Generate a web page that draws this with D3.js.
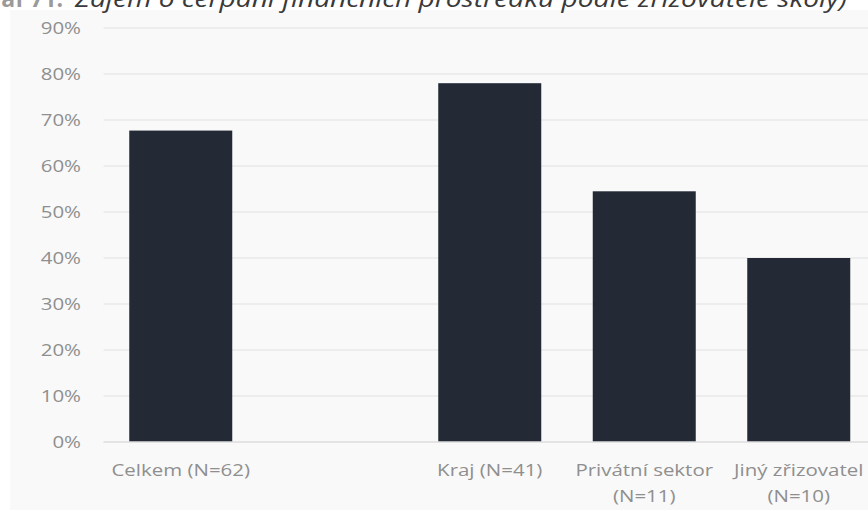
<!DOCTYPE html>
<html><head><meta charset="utf-8">
<script src="https://cdn.jsdelivr.net/npm/d3@7"></script>
<style>
html,body{margin:0;padding:0;background:#ffffff;}
svg{display:block;}
</style></head>
<body>
<svg id="chart" width="868" height="511"></svg>
<script>
const titlePrefix = "Graf 71:";
const titleText = "Zájem o čerpání finančních prostředků podle zřizovatele školy)";
const categories = ["Celkem (N=62)", " ", "Kraj (N=41)", "Privátní sektor\n(N=11)", "Jiný zřizovatel\n(N=10)"];
const values = [0.677, null, 0.780, 0.545, 0.40];
const yTicks = [0, 0.1, 0.2, 0.3, 0.4, 0.5, 0.6, 0.7, 0.8, 0.9];

const svg = d3.select("#chart");
svg.append("rect").attr("x", 10).attr("y", 10).attr("width", 858).attr("height", 500).attr("fill", "#f9f9f9");

// title, cut off at the top edge as in the reference
svg.append("text").attr("x", 63).attr("y", 7).attr("text-anchor", "end")
  .attr("font-family", "'Open Sans', sans-serif").attr("font-size", 23).attr("font-weight", "bold")
  .attr("fill", "#9a9a9a").text(titlePrefix);
svg.append("text").attr("x", 75).attr("y", 7)
  .attr("font-family", "'Open Sans', sans-serif").attr("font-size", 23).attr("font-style", "italic")
  .attr("fill", "#3a3a3a").attr("textLength", 772).attr("lengthAdjust", "spacingAndGlyphs")
  .text(titleText);

const pLeft = 103.5, pRight = 876, pTop = 28, pBottom = 442;
const x = d3.scaleBand().domain(categories).range([pLeft, pRight]).paddingInner(1/3).paddingOuter(1/6);
const y = d3.scaleLinear().domain([0, 0.9]).range([pBottom, pTop]);

svg.append("g").selectAll("line").data(yTicks.filter(d => d > 0)).join("line")
  .attr("x1", pLeft).attr("x2", 868).attr("y1", d => y(d)).attr("y2", d => y(d))
  .attr("stroke", "#e9e9e9").attr("stroke-width", 1.5);

const yAxis = d3.axisLeft(y).tickValues(yTicks).tickFormat(d3.format(".0%")).tickSize(0).tickPadding(0);
const gy = svg.append("g").attr("transform", "translate(81,0)").call(yAxis);
gy.select(".domain").remove();
gy.selectAll(".tick text").attr("font-family", "'Open Sans', sans-serif").attr("font-size", 16.5)
  .attr("fill", "#8f8f8f").attr("text-anchor", "end").attr("x", 0)
  .attr("transform", "scale(1.24,1)");

svg.append("g").selectAll("rect").data(categories.map((c, i) => ({c, v: values[i]})).filter(d => d.v != null)).join("rect")
  .attr("x", d => x(d.c)).attr("width", x.bandwidth())
  .attr("y", d => y(d.v)).attr("height", d => y(0) - y(d.v))
  .attr("fill", "#232a36");

svg.append("line").attr("x1", pLeft).attr("x2", 868).attr("y1", y(0)).attr("y2", y(0))
  .attr("stroke", "#dcdcdc").attr("stroke-width", 1.5);

const xAxis = d3.axisBottom(x).tickSize(0).tickFormat(() => "");
const gx = svg.append("g").attr("transform", "translate(0," + pBottom + ")").call(xAxis);
gx.select(".domain").remove();
gx.selectAll(".tick").each(function(d){
  const g = d3.select(this);
  const lines = d.split("\n");
  const tx = g.append("text").attr("text-anchor", "middle")
    .attr("font-family", "'Open Sans', sans-serif").attr("font-size", 16.5).attr("fill", "#8f8f8f")
    .attr("transform", "scale(1.24,1)");
  lines.forEach((ln, i) => {
    tx.append("tspan").attr("x", 0).attr("y", 34 + i * 26).text(ln);
  });
});
</script>
</body></html>
